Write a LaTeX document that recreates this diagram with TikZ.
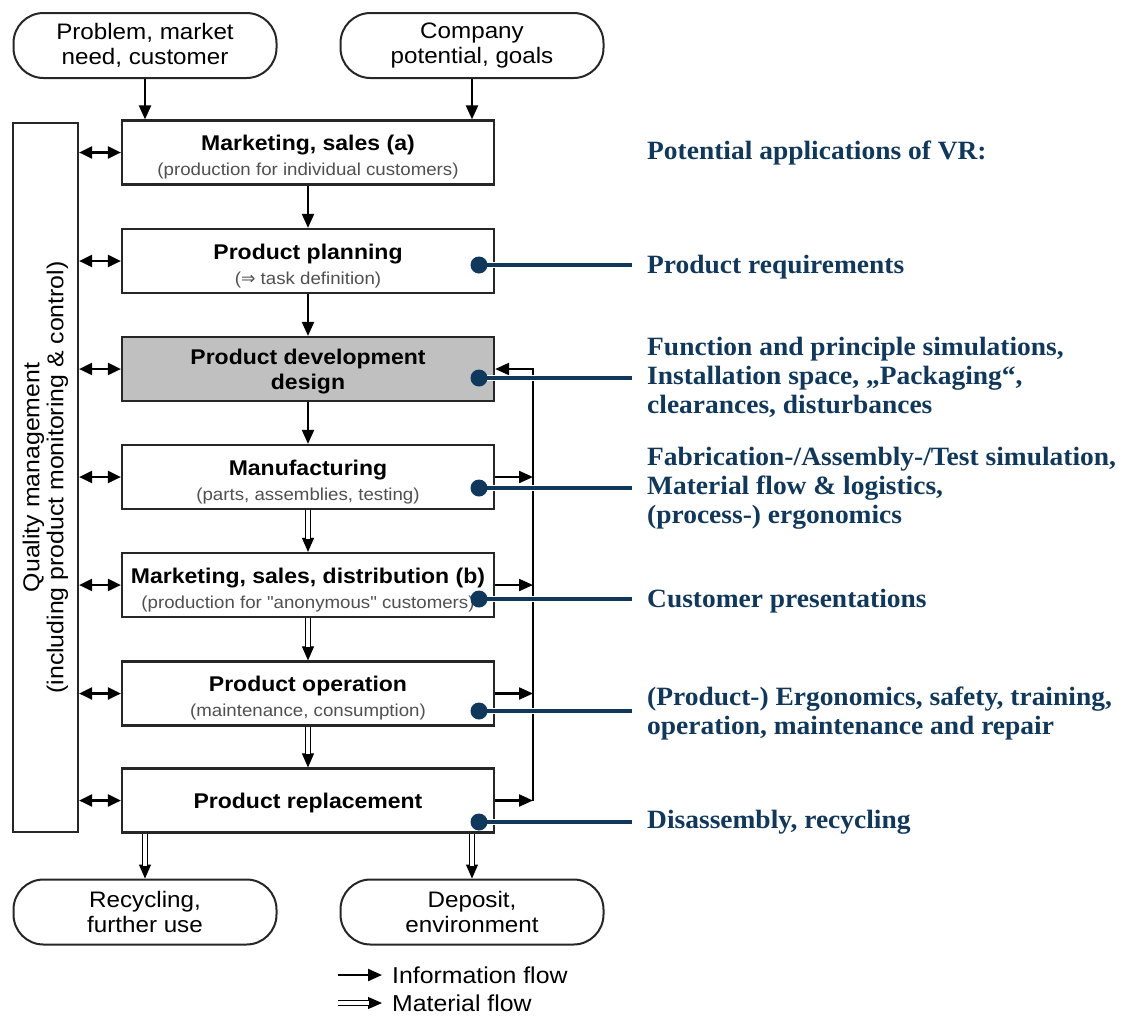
\documentclass[tikz,border=0pt]{standalone}
\usepackage{fontspec}
\usetikzlibrary{arrows.meta}
\newfontfamily\diasf{Liberation Sans}[FakeStretch=1.08]
\newfontfamily\diarm{Liberation Serif}[FakeStretch=1.04]
\newfontfamily\diasym{DejaVu Sans}
\definecolor{vrblue}{RGB}{16,56,92}
\definecolor{subgrey}{RGB}{80,80,80}
\definecolor{devgrey}{RGB}{192,192,192}
\newcommand\stagesub{\fontsize{17.3}{25}\selectfont\color{subgrey}}
% strut that lowers the text block inside a stage box
\newcommand\stagestrut{\rule{0pt}{25pt}}

\begin{document}
\begin{tikzpicture}[x=1pt,y=-1pt,
  stage/.style={draw=black!85, line width=2.2pt, minimum width=372pt, minimum height=64pt,
    inner sep=0pt, align=center, fill=white, font=\diasf\fontsize{21.3}{25}\selectfont},
  terminal/.style={draw=black!85, line width=2pt, rounded corners=30pt, minimum width=263pt,
    minimum height=65pt, inner sep=0pt, align=center, font=\diasf\fontsize{22.4}{25}\selectfont},
  info/.style={line width=2.2pt, -{Triangle[length=14pt,width=12pt]}},
  infoboth/.style={line width=2.2pt, {Triangle[length=13pt,width=12pt]}-{Triangle[length=13pt,width=12pt]}},
  matflow/.style={line width=1pt, -{Triangle[length=14pt,width=12pt]},
    postaction={draw, -, double=white, double distance=3.5pt, line width=1.1pt, shorten >=13pt}},
  vrdot/.style={circle, fill=vrblue, minimum size=17pt, inner sep=0pt},
  vrline/.style={draw=vrblue, line width=4.8pt, preaction={draw=white, line width=6.5pt}},
  vrtext/.style={text=vrblue, font=\diarm\bfseries\fontsize{26.4}{29}\selectfont, align=left, inner sep=0pt},
  legendtext/.style={anchor=base west, inner sep=0pt, font=\diasf\fontsize{23}{25}\selectfont}]

\useasboundingbox (0,0) rectangle (1123,1018);

% sources and sinks
\node[terminal] (o1) at (145,45.5) {Problem, market\\need, customer};
\node[terminal] (o2) at (472,45.5) {Company\\potential, goals};
\node[terminal] (o3) at (145,912) {Recycling,\\further use};
\node[terminal] (o4) at (472,912) {Deposit,\\environment};

% quality management bar
\node[draw=black!85, line width=2.2pt, rotate=90, minimum width=709pt, minimum height=65pt,
  inner sep=0pt, align=center, font=\diasf\fontsize{23}{24}\selectfont] (qm) at (45.5,477.5)
  {Quality management\\(including product monitoring \& control)};

% life-cycle stages
\node[stage] (b1) at (308,152.5) {\stagestrut{\bfseries Marketing, sales (a)}\\{\stagesub (production for individual customers)}};
\node[stage] (b2) at (308,261) {\stagestrut{\bfseries Product planning}\\{\stagesub ({\diasym ⇒} task definition)}};
\node[stage, fill=devgrey] (b3) at (308,369) {\rule{0pt}{20pt}{\bfseries Product development}\\{\bfseries design}};
\node[stage] (b4) at (308,477) {\stagestrut{\bfseries Manufacturing}\\{\stagesub (parts, assemblies, testing)}};
\node[stage] (b5) at (308,585) {\stagestrut{\bfseries Marketing, sales, distribution (b)}\\{\stagesub (production for "anonymous" customers)}};
\node[stage] (b6) at (308,693.5) {\stagestrut{\bfseries Product operation}\\{\stagesub (maintenance, consumption)}};
\node[stage] (b7) at (308,800.5) {\rule{0pt}{21pt}\bfseries Product replacement};

% information flow
\draw[info] (o1.south) -- (o1.south |- b1.north);
\draw[info] (o2.south) -- (o2.south |- b1.north);
\draw[info] (b1) -- (b2);
\draw[info] (b2) -- (b3);
\draw[info] (b3) -- (b4);

% material flow
\draw[matflow] (b4) -- (b5);
\draw[matflow] (b5) -- (b6);
\draw[matflow] (b6) -- (b7);
\draw[matflow] (o3.north |- b7.south) -- (o3.north);
\draw[matflow] (o4.north |- b7.south) -- (o4.north);

% exchange with quality management
\foreach \b in {b1,b2,b3,b4,b5,b6,b7}
  \draw[infoboth] (qm.south |- \b.west) -- (\b.west);

% feedback to design
\coordinate (fbx) at (533,0);
\foreach \b in {b4,b5,b6,b7}
  \draw[info] (\b.east) -- (\b.east -| fbx);
\draw[info] (b7.east -| fbx) -- (b3.east -| fbx) -- (b3.east);

% VR application markers
\coordinate (p2) at (479,265);
\coordinate (p3) at (479,378);
\coordinate (p4) at (479,488);
\coordinate (p5) at (479,599);
\coordinate (p6) at (479,711);
\coordinate (p7) at (479,822);
\foreach \i in {2,...,7} {
  \coordinate (e\i) at (632,0 |- p\i);
  \draw[vrline] (p\i) -- (e\i);
  \node[vrdot] (d\i) at (p\i) {};
}

% VR application texts
\node[vrtext, anchor=base west] (t1) at (647,159) {Potential applications of VR:};
\node[vrtext, anchor=base west] (t2) at (647,273) {Product requirements};
\node[vrtext, anchor=north west] (t3) at (647,337) {Function and principle simulations,\\Installation space, „Packaging“,\\clearances, disturbances};
\node[vrtext, anchor=north west] (t4) at (647,447) {Fabrication-/Assembly-/Test simulation,\\Material flow \& logistics,\\(process-) ergonomics};
\node[vrtext, anchor=base west] (t5) at (647,607) {Customer presentations};
\node[vrtext, anchor=north west] (t6) at (647,687) {(Product-) Ergonomics, safety, training,\\operation, maintenance and repair};
\node[vrtext, anchor=base west] (t7) at (647,828) {Disassembly, recycling};

% legend
\coordinate (li1) at (338,975);
\coordinate (li2) at (382,975);
\draw[info] (li1) -- (li2);
\node[legendtext] (lt1) at (392,983) {Information flow};
\coordinate (lm1) at (338,1003);
\coordinate (lm2) at (382,1003);
\draw[matflow] (lm1) -- (lm2);
\node[legendtext] (lt2) at (392,1011) {Material flow};
\end{tikzpicture}
\end{document}
